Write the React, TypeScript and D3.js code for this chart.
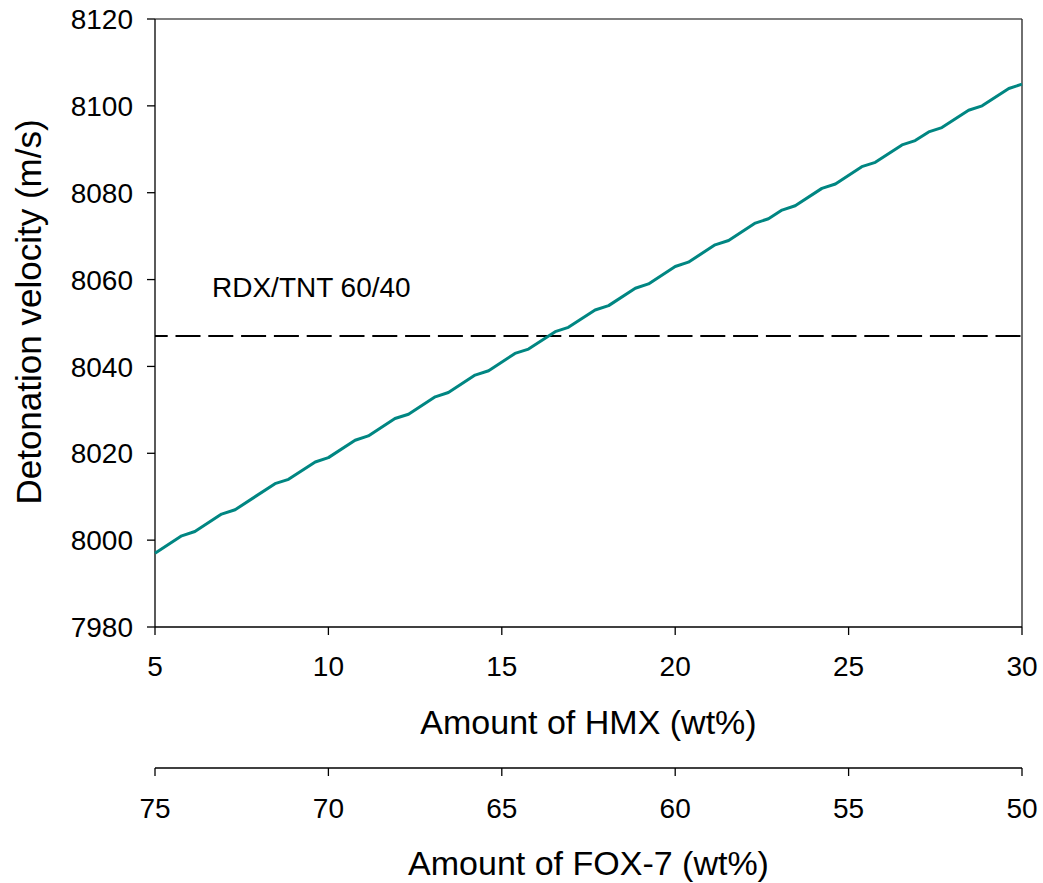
import React from "react";
import * as d3 from "d3";

const hmx = [5.0, 5.77, 6.15, 6.92, 7.31, 8.46, 8.85, 9.62, 10.0, 10.77, 11.15, 11.92, 12.31, 13.08, 13.46, 14.23, 14.62, 15.38, 15.77, 16.54, 16.92, 17.69, 18.08, 18.85, 19.23, 20.0, 20.38, 21.15, 21.54, 22.31, 22.69, 23.08, 23.46, 24.23, 24.62, 25.38, 25.77, 26.54, 26.92, 27.31, 27.69, 28.46, 28.85, 29.62, 30.0];
const velocity = [7997, 8001, 8002, 8006, 8007, 8013, 8014, 8018, 8019, 8023, 8024, 8028, 8029, 8033, 8034, 8038, 8039, 8043, 8044, 8048, 8049, 8053, 8054, 8058, 8059, 8063, 8064, 8068, 8069, 8073, 8074, 8076, 8077, 8081, 8082, 8086, 8087, 8091, 8092, 8094, 8095, 8099, 8100, 8104, 8105];
const referenceValue = 8047;
const referenceLabel = "RDX/TNT 60/40";
const yTicks = [7980, 8000, 8020, 8040, 8060, 8080, 8100, 8120];
const hmxTicks = [5, 10, 15, 20, 25, 30];
const foxTicks = [75, 70, 65, 60, 55, 50];
const yTitle = "Detonation velocity (m/s)";
const xTitle = "Amount of HMX (wt%)";
const x2Title = "Amount of FOX-7 (wt%)";

const W = 1043;
const H = 883;
const L = 155, R = 1022, T = 19, B = 627;
const AX2 = 768;
const FONT = "'Liberation Sans', Arial, Helvetica, sans-serif";

export default function App() {
  const x = d3.scaleLinear().domain([5, 30]).range([L, R]);
  const x2 = d3.scaleLinear().domain([75, 50]).range([L, R]);
  const y = d3.scaleLinear().domain([7980, 8120]).range([B, T]);
  const pts: [number, number][] = hmx.map((h, i) => [h, velocity[i]]);
  const line = d3.line<[number, number]>().x(d => x(d[0])).y(d => y(d[1]));
  const yRef = y(referenceValue);

  return (
    <svg width={W} height={H} style={{ position: "absolute", left: 0, top: 0, background: "#fff" }} fontFamily={FONT}>
      <rect x={0} y={0} width={W} height={H} fill="#fff" />
      {/* frame top & right */}
      <line x1={L} x2={R} y1={T} y2={T} stroke="#555" strokeWidth={1.4} />
      <line x1={R} x2={R} y1={T} y2={B} stroke="#333" strokeWidth={1.4} />
      {/* y axis */}
      <line x1={L} x2={L} y1={T} y2={B} stroke="#000" strokeWidth={1.3} />
      {yTicks.map(t => (
        <g key={t}>
          <line x1={L - 8} x2={L} y1={y(t)} y2={y(t)} stroke="#000" strokeWidth={1.3} />
          <text x={133} y={y(t)} dy="0.36em" textAnchor="end" fontSize={28} fill="#000">{t}</text>
        </g>
      ))}
      <text transform={`translate(41,${(T + B) / 2 - 11}) rotate(-90)`} textAnchor="middle" fontSize={35} fill="#000">{yTitle}</text>
      {/* x axis */}
      <line x1={L} x2={R} y1={B} y2={B} stroke="#000" strokeWidth={1.3} />
      {hmxTicks.map(t => (
        <g key={t}>
          <line x1={x(t)} x2={x(t)} y1={B} y2={B + 8} stroke="#000" strokeWidth={1.3} />
          <text x={x(t)} y={676} textAnchor="middle" fontSize={28} fill="#000">{t}</text>
        </g>
      ))}
      <text x={(L + R) / 2} y={734} textAnchor="middle" fontSize={34} fill="#000">{xTitle}</text>
      {/* second x axis */}
      <line x1={L} x2={R} y1={AX2} y2={AX2} stroke="#000" strokeWidth={1.3} />
      {foxTicks.map(t => (
        <g key={t}>
          <line x1={x2(t)} x2={x2(t)} y1={AX2} y2={AX2 + 8} stroke="#000" strokeWidth={1.3} />
          <text x={x2(t)} y={818} textAnchor="middle" fontSize={28} fill="#000">{t}</text>
        </g>
      ))}
      <text x={(L + R) / 2} y={875} textAnchor="middle" fontSize={34} fill="#000">{x2Title}</text>
      {/* reference line */}
      <line x1={L} x2={R} y1={yRef} y2={yRef} stroke="#000" strokeWidth={2} strokeDasharray="25 7.8" strokeDashoffset={12.3} />
      <text x={212} y={297} fontSize={28} fill="#000">{referenceLabel}</text>
      {/* data line */}
      <path d={line(pts) || ""} fill="none" stroke="#008682" strokeWidth={3} strokeLinejoin="round" />
    </svg>
  );
}
